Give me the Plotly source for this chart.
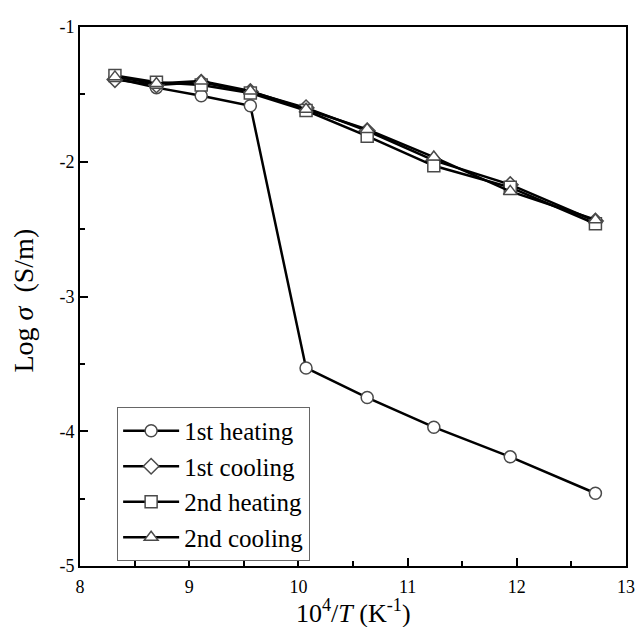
import plotly.graph_objects as go

x_vals = [8.32, 8.70, 9.11, 9.56, 10.07, 10.63, 11.24, 11.94, 12.72]
heat1 = [-1.38, -1.45, -1.51, -1.585, -3.53, -3.75, -3.97, -4.19, -4.46]
cool1 = [-1.39, -1.43, -1.41, -1.48, -1.60, -1.77, -1.99, -2.17, -2.44]
heat2 = [-1.36, -1.41, -1.43, -1.49, -1.62, -1.81, -2.03, -2.19, -2.46]
cool2 = [-1.37, -1.42, -1.40, -1.475, -1.61, -1.76, -1.965, -2.22, -2.43]

series_names = ["1st heating", "1st cooling", "2nd heating", "2nd cooling"]
series_vals = [heat1, cool1, heat2, cool2]
symbols = ["circle", "diamond", "square", "triangle-up"]

x_ticks = [8, 9, 10, 11, 12, 13]
x_ticktext = ["8", "9", "10", "11", "12", "13"]
y_ticks = [-1, -2, -3, -4, -5]
y_ticktext = ["-1", "-2", "-3", "-4", "-5"]

x_title = "10<sup>4</sup>/<i>T</i> (K<sup>-1</sup>)"
y_title = "Log <i>σ</i>  (S/m)"

FONT = "Liberation Serif, Times New Roman, serif"

fig = go.Figure()
for name, vals, sym in zip(series_names, series_vals, symbols):
    fig.add_trace(go.Scatter(
        x=x_vals, y=vals, name=name, mode="lines+markers",
        line=dict(color="black", width=2.5),
        marker=dict(symbol=sym, size=12, color="white",
                    line=dict(width=1.5, color="#4a4a4a")),
    ))

fig.update_layout(
    width=636, height=619,
    margin=dict(l=72, r=9, t=12, b=61),
    paper_bgcolor="white", plot_bgcolor="white",
    font=dict(family=FONT, color="black", size=18),
    showlegend=True,
    legend=dict(
        x=0.068, y=0.295, xanchor="left", yanchor="top",
        bordercolor="#666", borderwidth=1, bgcolor="white",
        font=dict(family=FONT, size=25), tracegroupgap=0,
        itemwidth=56,
    ),
    xaxis=dict(
        range=[8, 13], tickvals=x_ticks, ticktext=x_ticktext,
        ticks="inside", ticklen=8, tickwidth=1.5, tickcolor="black",
        showline=True, linecolor="black", linewidth=2, mirror=True,
        showgrid=False, zeroline=False, ticklabelstandoff=3,
        minor=dict(ticks="inside", dtick=0.5, ticklen=5, tickwidth=1.5, tickcolor="black"),
        tickfont=dict(size=18),
    ),
    yaxis=dict(
        range=[-5, -1], tickvals=y_ticks, ticktext=y_ticktext,
        ticks="inside", ticklen=8, tickwidth=1.5, tickcolor="black",
        showline=True, linecolor="black", linewidth=2, mirror=True,
        showgrid=False, zeroline=False,
        minor=dict(ticks="inside", dtick=0.5, ticklen=5, tickwidth=1.5, tickcolor="black"),
        tickfont=dict(size=18),
    ),
    annotations=[
        dict(text=x_title, xref="paper", yref="paper", x=0.5, y=-0.084,
             xanchor="center", yanchor="middle", showarrow=False,
             font=dict(family=FONT, size=26)),
        dict(text=y_title, xref="paper", yref="paper", x=-0.104, y=0.493,
             xanchor="center", yanchor="middle", showarrow=False, textangle=-90,
             font=dict(family=FONT, size=28)),
    ],
)

fig.write_html("out.html")
